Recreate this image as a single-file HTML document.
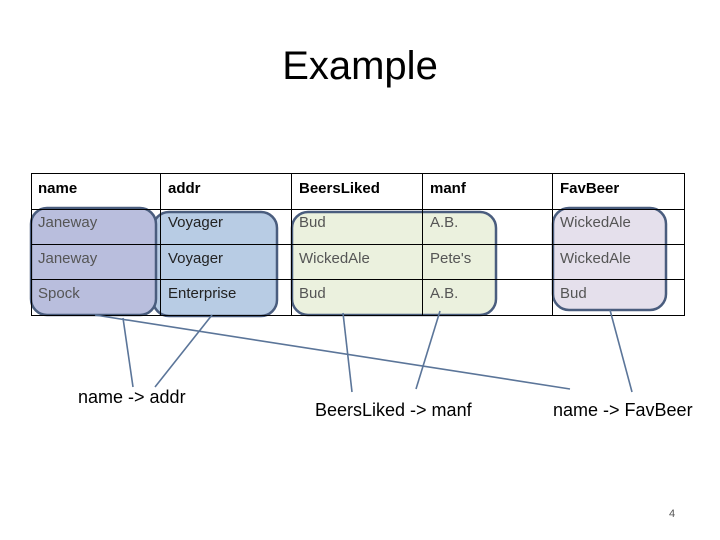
<!DOCTYPE html>
<html><head><meta charset="utf-8"><style>
body{margin:0;width:720px;height:540px;background:#fff;position:relative;overflow:hidden;font-family:"Liberation Sans",sans-serif}
.t{position:absolute;white-space:nowrap}
</style></head><body>
<svg width="720" height="540" style="position:absolute;left:0;top:0">
<rect x="153" y="212" width="124" height="104" rx="16" fill="#b8cce4" stroke="#4a5d7e" stroke-width="2.5"/>
<rect x="31" y="208" width="125" height="107" rx="16" fill="#b9bedd" stroke="#4a5d7e" stroke-width="2.5"/>
<rect x="292" y="212" width="204" height="103" rx="16" fill="#ebf1de" stroke="#4a5d7e" stroke-width="2.5"/>
<rect x="553" y="208" width="113" height="102" rx="16" fill="#e5e0ec" stroke="#4a5d7e" stroke-width="2.5"/>
<g stroke="#000" stroke-width="1" fill="none">
<rect x="31.5" y="173.5" width="653" height="142"/>
<line x1="31" y1="209.5" x2="684" y2="209.5"/>
<line x1="31" y1="244.5" x2="684" y2="244.5"/>
<line x1="31" y1="279.5" x2="684" y2="279.5"/>
<line x1="160.5" y1="173" x2="160.5" y2="315"/>
<line x1="291.5" y1="173" x2="291.5" y2="315"/>
<line x1="422.5" y1="173" x2="422.5" y2="315"/>
<line x1="552.5" y1="173" x2="552.5" y2="315"/>
</g>
<g stroke="#5b7599" stroke-width="1.6">
<line x1="123" y1="318" x2="133" y2="387"/>
<line x1="212" y1="315" x2="155" y2="387"/>
<line x1="95" y1="315" x2="570" y2="389"/>
<line x1="343" y1="313" x2="352" y2="392"/>
<line x1="440" y1="311" x2="416" y2="389"/>
<line x1="610" y1="310" x2="632" y2="392"/>
</g>
</svg>
<div class="t" style="left:0;width:720px;text-align:center;top:44px;font-size:40px">Example</div>
<div style="font-size:15px;color:#000;font-weight:bold">
<div class="t" style="left:38px;top:180px">name</div>
<div class="t" style="left:168px;top:180px">addr</div>
<div class="t" style="left:299px;top:180px">BeersLiked</div>
<div class="t" style="left:430px;top:180px">manf</div>
<div class="t" style="left:560px;top:180px">FavBeer</div>
</div>
<div style="font-size:15px;color:#555">
<div class="t" style="left:38px;top:214px">Janeway</div>
<div class="t" style="left:168px;top:214px;color:#222">Voyager</div>
<div class="t" style="left:299px;top:214px">Bud</div>
<div class="t" style="left:430px;top:214px">A.B.</div>
<div class="t" style="left:560px;top:214px">WickedAle</div>
<div class="t" style="left:38px;top:250px">Janeway</div>
<div class="t" style="left:168px;top:250px;color:#222">Voyager</div>
<div class="t" style="left:299px;top:250px">WickedAle</div>
<div class="t" style="left:430px;top:250px">Pete's</div>
<div class="t" style="left:560px;top:250px">WickedAle</div>
<div class="t" style="left:38px;top:285px">Spock</div>
<div class="t" style="left:168px;top:285px;color:#222">Enterprise</div>
<div class="t" style="left:299px;top:285px">Bud</div>
<div class="t" style="left:430px;top:285px">A.B.</div>
<div class="t" style="left:560px;top:285px">Bud</div>
</div>
<div style="font-size:18px;color:#000">
<div class="t" style="left:78px;top:387px">name -&gt; addr</div>
<div class="t" style="left:315px;top:400px">BeersLiked -&gt; manf</div>
<div class="t" style="left:553px;top:400px">name -&gt; FavBeer</div>
</div>
<div class="t" style="left:669px;top:508px;font-size:11px;color:#555">4</div>
</body></html>
